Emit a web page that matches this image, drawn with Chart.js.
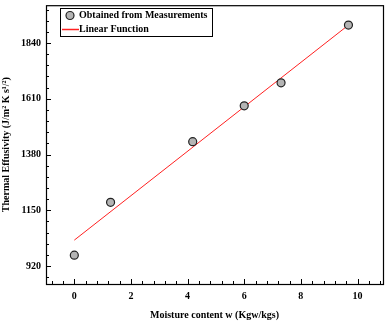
<!DOCTYPE html>
<html>
<head>
<meta charset="utf-8">
<script src="https://cdn.jsdelivr.net/npm/chart.js@4/dist/chart.umd.min.js"></script>
<style>
  html, body { margin: 0; padding: 0; background: #fff; }
  #wrap { width: 390px; height: 325px; }
</style>
</head>
<body>
<div id="wrap"><canvas id="myChart" width="390" height="325"></canvas></div>
<script>
// values
const moisture = [0, 1.28, 4.18, 6.0, 7.3, 9.68];
const effusivity = [965, 1183, 1433, 1581, 1676, 1914];
const fitX = [0, 9.68];
const fitY = [1027, 1914];
const seriesNames = ["Obtained from Measurements", "Linear Function"];
const xMajor = [0, 2, 4, 6, 8, 10];
const yMajor = [920, 1150, 1380, 1610, 1840];

const serif = "'Liberation Serif', 'Times New Roman', serif";
const red = "#ff2020";
const markerFill = "#b4b4b4";

// frame, inward major + minor ticks, boxed legend
const frameTicks = {
  id: "frameTicks",
  afterDraw(chart) {
    const ctx = chart.ctx;
    const a = chart.chartArea;
    const xs = chart.scales.x;
    const ys = chart.scales.y;
    ctx.save();
    ctx.strokeStyle = "#000";
    ctx.lineWidth = 1.2;
    ctx.strokeRect(a.left + 0.5, a.top + 0.5, a.right - a.left, a.bottom - a.top);

    ctx.lineWidth = 1;
    const xMinor = (xMajor[1] - xMajor[0]) / 5;
    for (let i = Math.ceil(xs.min / xMinor); i * xMinor <= xs.max; i++) {
      const px = Math.round(xs.getPixelForValue(i * xMinor)) + 0.5;
      const len = i % 5 === 0 ? 5 : 3;
      ctx.beginPath();
      ctx.moveTo(px, a.bottom);
      ctx.lineTo(px, a.bottom - len);
      ctx.stroke();
    }
    const yMinor = (yMajor[1] - yMajor[0]) / 5;
    for (let i = Math.ceil(ys.min / yMinor); i * yMinor <= ys.max; i++) {
      const py = Math.round(ys.getPixelForValue(i * yMinor)) + 0.5;
      const len = i % 5 === 0 ? 5 : 3;
      ctx.beginPath();
      ctx.moveTo(a.left, py);
      ctx.lineTo(a.left + len, py);
      ctx.stroke();
    }

    // legend
    const lx = 60, ly = 8, lw = 152, lh = 28;
    ctx.strokeRect(lx + 0.5, ly + 0.5, lw, lh);
    ctx.font = "bold 10px " + serif;
    ctx.textBaseline = "middle";
    ctx.textAlign = "left";
    ctx.beginPath();
    ctx.arc(70, 15.5, 4, 0, Math.PI * 2);
    ctx.fillStyle = markerFill;
    ctx.fill();
    ctx.lineWidth = 1.2;
    ctx.strokeStyle = "#222";
    ctx.stroke();
    ctx.fillStyle = "#000";
    ctx.fillText(seriesNames[0], 79, 15.5);
    ctx.beginPath();
    ctx.strokeStyle = red;
    ctx.lineWidth = 1.5;
    ctx.moveTo(62, 29.5);
    ctx.lineTo(79, 29.5);
    ctx.stroke();
    ctx.fillText(seriesNames[1], 79, 29.5);
    ctx.restore();
  }
};

const ctx = document.getElementById("myChart").getContext("2d");
const myChart = new Chart(ctx, {
  type: "scatter",
  data: {
    datasets: [
      {
        label: seriesNames[0],
        data: moisture.map((x, i) => ({ x: x, y: effusivity[i] })),
        pointStyle: "circle",
        pointRadius: 4,
        pointBackgroundColor: markerFill,
        pointBorderColor: "#222",
        pointBorderWidth: 1.2,
        showLine: false,
        order: 1
      },
      {
        label: seriesNames[1],
        data: fitX.map((x, i) => ({ x: x, y: fitY[i] })),
        showLine: true,
        borderColor: red,
        borderWidth: 1,
        pointRadius: 0,
        order: 2
      }
    ]
  },
  options: {
    responsive: false,
    animation: false,
    layout: { padding: { top: 4, right: 7, left: 0, bottom: 0 } },
    plugins: {
      tooltip: { enabled: false },
      legend: { display: false }
    },
    scales: {
      x: {
        type: "linear",
        min: -1,
        max: 10.9,
        grid: { display: false, drawTicks: false },
        border: { display: false },
        ticks: {
          autoSkip: false,
          maxRotation: 0,
          padding: 6,
          color: "#000",
          font: { family: serif, size: 10, weight: "bold" },
          callback: v => String(v)
        },
        afterBuildTicks(scale) { scale.ticks = xMajor.map(v => ({ value: v })); },
        title: {
          display: true,
          text: "Moisture content w (Kgw/kgs)",
          color: "#000",
          font: { family: serif, size: 10, weight: "bold" },
          padding: { top: 4, bottom: 4 }
        },
        afterFit(scale) {
          scale.height = 41;
          scale.paddingLeft = 0;
          scale.paddingRight = 0;
        }
      },
      y: {
        type: "linear",
        min: 846,
        max: 1996,
        grid: { display: false, drawTicks: false },
        border: { display: false },
        ticks: {
          autoSkip: false,
          padding: 5,
          color: "#000",
          font: { family: serif, size: 10, weight: "bold" },
          callback: v => String(v)
        },
        afterBuildTicks(scale) { scale.ticks = yMajor.map(v => ({ value: v })); },
        title: {
          display: true,
          text: "Thermal Effusivity (J/m² K s¹/²)",
          color: "#000",
          font: { family: serif, size: 10, weight: "bold" },
          padding: { top: 0, bottom: 0 }
        },
        afterFit(scale) {
          scale.width = 46;
          scale.paddingTop = 0;
          scale.paddingBottom = 0;
        }
      }
    }
  },
  plugins: [frameTicks]
});
</script>
</body>
</html>
